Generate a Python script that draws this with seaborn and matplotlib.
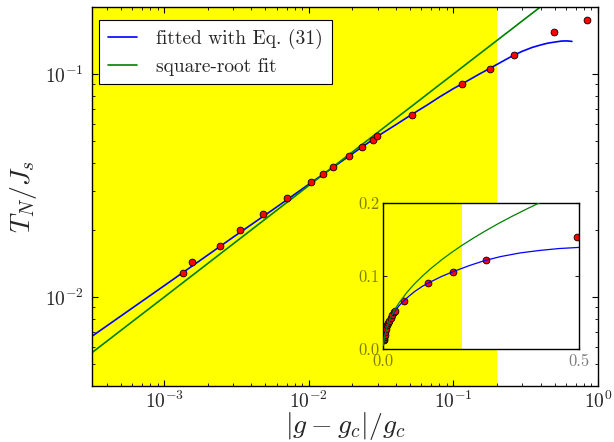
import numpy as np
import pandas as pd
import matplotlib
matplotlib.use("Agg")
import matplotlib.pyplot as plt
import matplotlib.ticker as mticker
import seaborn as sns

# Measured Néel temperature versus distance from the critical coupling
delta_g = [0.00134, 0.00156, 0.00244, 0.00332, 0.00482, 0.00703, 0.0103, 0.0125,
           0.0147, 0.0190, 0.0233, 0.0277, 0.0298, 0.052, 0.114, 0.178, 0.262,
           0.495, 0.836]
t_neel = [0.01285, 0.01439, 0.01694, 0.0200, 0.02355, 0.0277, 0.0327, 0.0357,
          0.0383, 0.0429, 0.0471, 0.0506, 0.0527, 0.0656, 0.090, 0.106, 0.122,
          0.154, 0.175]

# Curve fitted with Eq. (31)
eq31_x = [0.000316, 0.001, 0.003, 0.006, 0.01, 0.02, 0.03, 0.04, 0.05, 0.065,
          0.08, 0.1, 0.12, 0.15, 0.18, 0.22, 0.26, 0.30, 0.35, 0.40, 0.45,
          0.50, 0.56, 0.61, 0.66]
eq31_y = [0.00668, 0.01127, 0.0186, 0.0254, 0.0321, 0.0440, 0.0528, 0.0594,
          0.0652, 0.0724, 0.0790, 0.0862, 0.0920, 0.0999, 0.1065, 0.1145,
          0.1215, 0.1268, 0.1318, 0.1352, 0.1378, 0.1393, 0.1408, 0.1410,
          0.1403]

# Square-root fit
sqrt_x = [0.000316, 0.001, 0.003, 0.01, 0.02, 0.03, 0.04, 0.06, 0.08, 0.1,
          0.12, 0.15, 0.175, 0.2, 0.23, 0.26, 0.295, 0.33, 0.37, 0.41, 0.45,
          0.5]
sqrt_y = [0.00564, 0.01002, 0.01736, 0.0317, 0.0448, 0.0549, 0.0634, 0.0776,
          0.0897, 0.1002, 0.1098, 0.1228, 0.1326, 0.1418, 0.1520, 0.1616,
          0.1722, 0.1821, 0.1928, 0.2030, 0.2127, 0.2241]

shade_end = 0.2
x_range = (10 ** -3.5, 1.0)
y_range = (0.004, 0.2)

points = pd.DataFrame({"dg": delta_g, "tn": t_neel})
eq31 = pd.DataFrame({"dg": eq31_x, "tn": eq31_y})
sqfit = pd.DataFrame({"dg": sqrt_x, "tn": sqrt_y})

sns.set_style("ticks")
plt.rcParams.update({
    "font.family": "serif",
    "font.serif": ["cmr10"],
    "mathtext.fontset": "cm",
    "axes.formatter.use_mathtext": True,
    "axes.unicode_minus": False,
    "axes.edgecolor": "black",
    "axes.linewidth": 1.0,
})

fig = plt.figure(figsize=(6.14, 4.42), dpi=100)
ax = fig.add_axes([0.150, 0.127, 0.824, 0.857])

ax.axvspan(x_range[0], shade_end, color="#ffff00", lw=0, zorder=0)
sns.lineplot(data=eq31, x="dg", y="tn", ax=ax, color="#0000ff", lw=1.2,
             sort=False, estimator=None, label="fitted with Eq. (31)", zorder=2)
sns.lineplot(data=sqfit, x="dg", y="tn", ax=ax, color="#008000", lw=1.2,
             sort=False, estimator=None, label="square-root fit", zorder=2)
sns.scatterplot(data=points, x="dg", y="tn", ax=ax, color="#ff0000",
                edgecolor="black", linewidth=0.6, s=24, zorder=3, legend=False)

ax.set_xscale("log")
ax.set_yscale("log")
ax.set_xlim(*x_range)
ax.set_ylim(*y_range)
ax.yaxis.set_minor_formatter(mticker.NullFormatter())
ax.xaxis.set_minor_formatter(mticker.NullFormatter())
ax.tick_params(which="both", direction="in", top=True, right=True,
               labelsize=14, color="black")
ax.tick_params(which="major", length=4, width=0.8, pad=6)
ax.tick_params(axis="x", which="major", pad=3.5)
ax.tick_params(which="minor", length=2, width=0.6)
ax.set_xlabel(r"$|g - g_c|/g_c$", fontsize=20, labelpad=-1.5)
ax.set_ylabel(r"$T_N/J_s$", fontsize=20, labelpad=4)

leg = ax.legend(loc="upper left", bbox_to_anchor=(0.0138, 0.9657),
                borderaxespad=0, fontsize=14, frameon=True, fancybox=False,
                framealpha=1, edgecolor="black", handlelength=1.5,
                handletextpad=1.0, labelspacing=0.45, borderpad=0.45)
leg.get_frame().set_linewidth(0.8)

# Linear-scale inset
ins = fig.add_axes([0.6243, 0.2097, 0.3187, 0.331])
ins.set_facecolor("white")
ins.axvspan(0, shade_end, color="#ffff00", lw=0, zorder=0)
sns.scatterplot(data=points, x="dg", y="tn", ax=ins, color="#ff0000",
                edgecolor="black", linewidth=0.6, s=24, zorder=2, legend=False)
sns.lineplot(data=eq31, x="dg", y="tn", ax=ins, color="#0000ff", lw=0.9,
             sort=False, estimator=None, zorder=3, legend=False)
sns.lineplot(data=sqfit, x="dg", y="tn", ax=ins, color="#008000", lw=0.9,
             sort=False, estimator=None, zorder=3, legend=False)
ins.set_xlim(0, 0.5)
ins.set_ylim(0, 0.2)
ins.set_xticks([0.0, 0.5])
ins.set_yticks([0.0, 0.1, 0.2])
ins.xaxis.set_major_formatter(mticker.FormatStrFormatter("%.1f"))
ins.yaxis.set_major_formatter(mticker.FormatStrFormatter("%.1f"))
ins.tick_params(which="both", direction="in", top=True, right=True,
                labelsize=12, labelcolor=(0, 0, 0, 0.5), length=3, width=0.8,
                pad=3)
ins.set_xlabel("")
ins.set_ylabel("")
for sp in ins.spines.values():
    sp.set_linewidth(1.0)

fig.savefig("out.png", dpi=100)
